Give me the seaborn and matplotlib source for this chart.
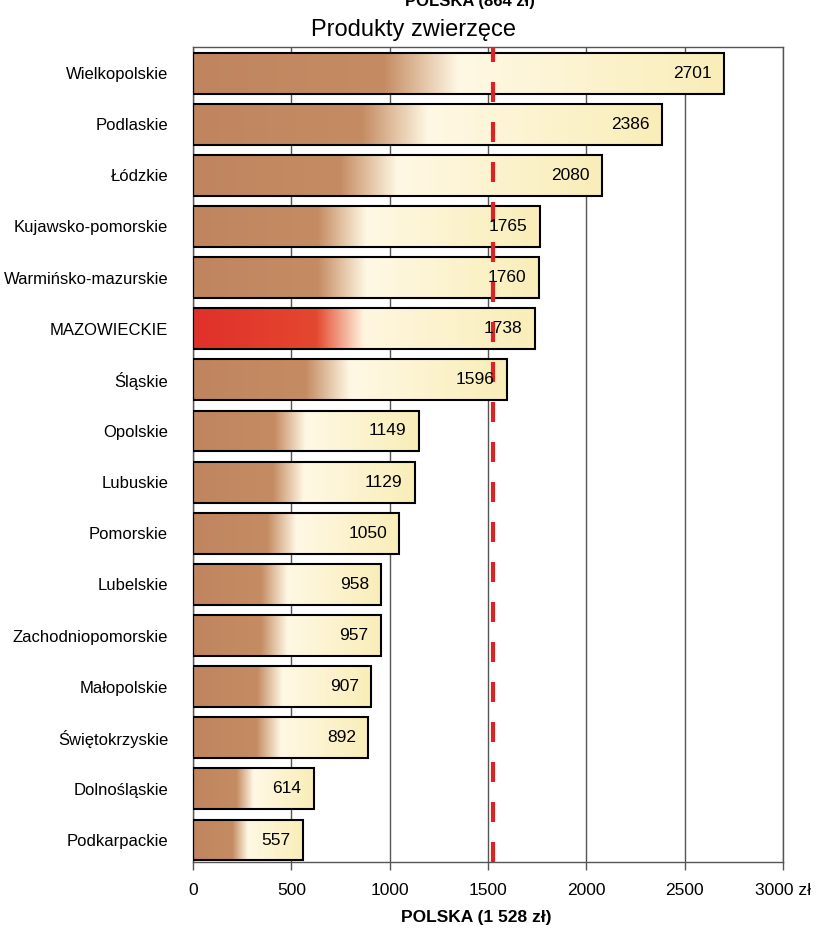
import numpy as np
import pandas as pd
import matplotlib
matplotlib.use('Agg')
import matplotlib.pyplot as plt
from matplotlib.colors import LinearSegmentedColormap
import seaborn as sns

# dane
regiony = ['Wielkopolskie', 'Podlaskie', 'Łódzkie', 'Kujawsko-pomorskie',
           'Warmińsko-mazurskie', 'MAZOWIECKIE', 'Śląskie', 'Opolskie',
           'Lubuskie', 'Pomorskie', 'Lubelskie', 'Zachodniopomorskie',
           'Małopolskie', 'Świętokrzyskie', 'Dolnośląskie', 'Podkarpackie']
wartosci = [2701, 2386, 2080, 1765, 1760, 1738, 1596, 1149,
            1129, 1050, 958, 957, 907, 892, 614, 557]
polska = 1528
x_ticks = [0, 500, 1000, 1500, 2000, 2500, 3000]
x_labels = ['0', '500', '1000', '1500', '2000', '2500', '3000 zł']

df = pd.DataFrame({'region': regiony, 'wartosc': wartosci})

sns.set_theme(style='white')
plt.rcParams['font.family'] = ['Liberation Sans', 'DejaVu Sans']
plt.rcParams['text.color'] = 'black'
plt.rcParams['xtick.color'] = 'black'
plt.rcParams['ytick.color'] = 'black'

fig = plt.figure(figsize=(8.18, 9.31), dpi=100)
ax = fig.add_axes([0.236, 0.0741, 0.721, 0.8754])

sns.barplot(data=df, x='wartosc', y='region', orient='h', color='#C0855F',
            edgecolor='black', linewidth=1.5, width=0.8, ax=ax)

# gradient jak w excelu
brown = LinearSegmentedColormap.from_list(
    'br', [(0, '#C0855F'), (0.36, '#C58C63'), (0.5, '#FFF8E4'), (1, '#F9EEB8')])
red = LinearSegmentedColormap.from_list(
    'rd', [(0, '#E0302A'), (0.36, '#E4482F'), (0.5, '#FFF6E0'), (1, '#F9EEB8')])
grad = np.linspace(0, 1, 256).reshape(1, -1)

for p, reg, val in zip(ax.patches, regiony, wartosci):
    x0, y0 = p.get_x(), p.get_y()
    w, h = p.get_width(), p.get_height()
    cmap = red if reg == 'MAZOWIECKIE' else brown
    im = ax.imshow(grad, cmap=cmap, extent=[x0, x0 + w, y0 + h, y0],
                   aspect='auto', interpolation='bilinear', zorder=2)
    im.set_clip_path(p)
    p.set_facecolor('none')
    p.set_zorder(3)
    ax.annotate(str(val), (x0 + w, y0 + h / 2), xytext=(-9, 0),
                textcoords='offset points', ha='right', va='center',
                fontsize=12.5, color='black', zorder=5)

ax.axvline(polska, color='#DD2222', lw=3, ls=(0, (4.8, 4.8)), zorder=4)

ax.set_xlim(0, 3000)
ax.set_ylim(15.43, -0.51)
ax.set_xticks(x_ticks)
ax.set_xticklabels(x_labels, fontsize=12.5)
ax.xaxis.grid(True, color='#555555', lw=1)
ax.set_axisbelow(True)
ax.tick_params(axis='x', bottom=True, length=6, width=1, color='#555555', pad=9)
ax.tick_params(axis='y', left=False, length=0, pad=18, labelsize=12)
for s in ax.spines.values():
    s.set_color('#555555')
    s.set_linewidth(1)
ax.set_xlabel('')
ax.set_ylabel('')

fig.text(0.505, 0.968, 'Produkty zwierzęce', ha='center', va='center', fontsize=17)
fig.text(0.575, 0.9936, 'POLSKA (864 zł)', ha='center', va='baseline',
         fontsize=12, fontweight='bold')
fig.text(0.582, 0.014, 'POLSKA (1 528 zł)', ha='center', va='center',
         fontsize=12.5, fontweight='bold')

fig.savefig('out.png', dpi=100)
